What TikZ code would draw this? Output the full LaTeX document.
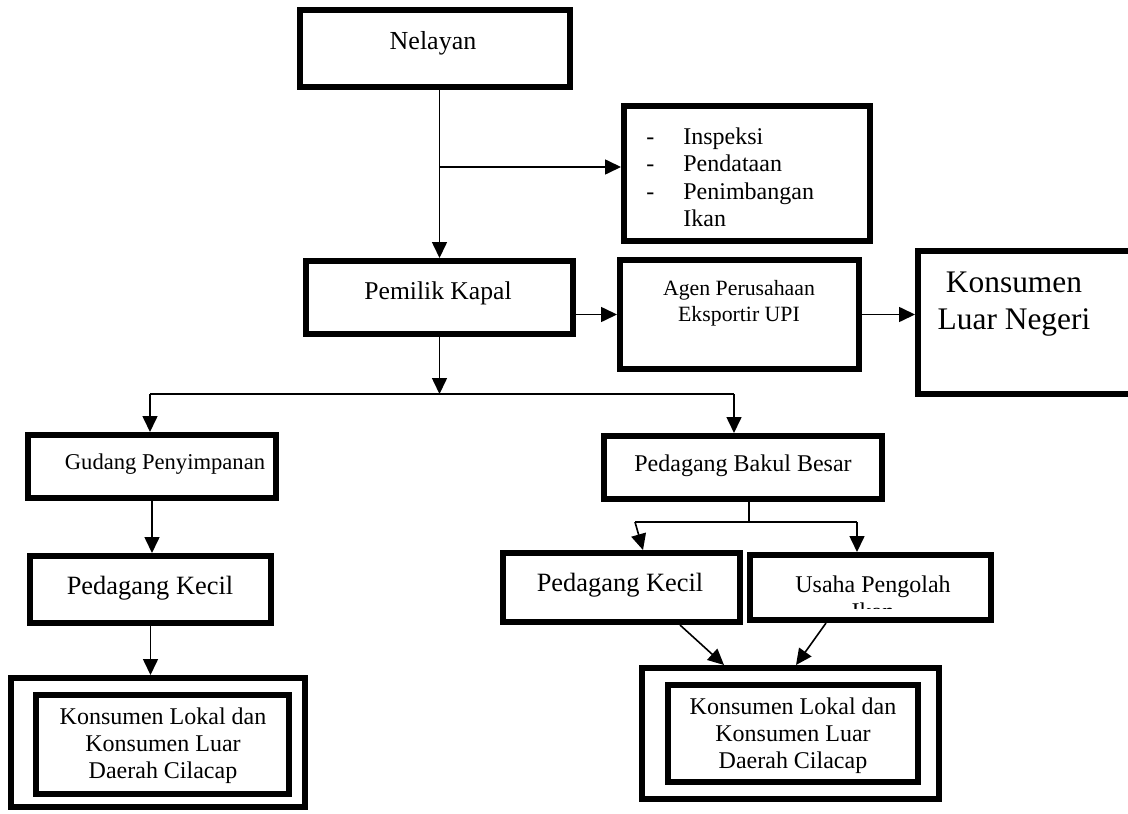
\documentclass[tikz,border=0pt]{standalone}
\usepackage{fontspec}
\setmainfont{Liberation Serif}
\usetikzlibrary{arrows.meta,fit}
\begin{document}
\begin{tikzpicture}[x=0.5pt,y=-0.5pt,
  box/.style={draw, line width=3pt, inner sep=0pt, rectangle},
  lbl/.style={inner sep=0pt, align=center},
  arr/.style={line width=0.8pt, -{Triangle[length=8pt,width=7.5pt]}},
  ln/.style={line width=0.8pt}]
\useasboundingbox (0,0) rectangle (1128,813);

% boxes
\node[box, fit={(300,10) (570,87)}] (nel) {};
\node[box, fit={(624,106) (870,241)}] (insp) {};
\node[box, fit={(306,261) (573,334)}] (pem) {};
\node[box, fit={(620,260) (859,369)}] (agen) {};
\node[box, fit={(918,251) (1140,394)}] (kln) {};
\node[box, fit={(28,435) (276,498)}] (gud) {};
\node[box, fit={(30,556) (271,623)}] (pkl) {};
\node[box, fit={(11,678) (305,807)}] (lko) {};
\node[box, fit={(36,695) (289,794)}] (lki) {};
\node[box, fit={(604,436) (882,499)}] (pbb) {};
\node[box, fit={(503,553) (740,622)}] (pkr) {};
\node[box, fit={(750,555) (991,620)}] (ush) {};
\node[box, fit={(642,668) (939,799)}] (rko) {};
\node[box, fit={(668,685) (918,782)}] (rki) {};

% texts
\node[lbl, font=\fontsize{13}{15}\selectfont] (tnel) at (433,43) {Nelayan};
\node[lbl, anchor=west, font=\fontsize{12}{13.7}\selectfont] (tinsp) at (646,180)
  {\begin{tabular}{@{}p{18.5pt}@{}l@{}}-&Inspeksi\\-&Pendataan\\-&Penimbangan\\&Ikan\end{tabular}};
\node[lbl, font=\fontsize{12.8}{15}\selectfont] (tpem) at (438,293) {Pemilik Kapal};
\node[lbl, font=\fontsize{10.9}{13}\selectfont] (tagen) at (739,303) {Agen Perusahaan\\Eksportir UPI};
\node[lbl, font=\fontsize{15.7}{18.5}\selectfont] (tkln) at (1014,304) {Konsumen\\Luar Negeri};
\node[lbl, font=\fontsize{11.3}{13}\selectfont] (tgud) at (165,464) {Gudang Penyimpanan};
\node[lbl, font=\fontsize{13.2}{15}\selectfont] (tpkl) at (150,588) {Pedagang Kecil};
\node[lbl, font=\fontsize{12}{13.5}\selectfont] (tlk) at (163,746) {Konsumen Lokal dan\\Konsumen Luar\\Daerah Cilacap};
\node[lbl, font=\fontsize{12}{14}\selectfont] (tpbb) at (743,466) {Pedagang Bakul Besar};
\node[lbl, font=\fontsize{13.2}{15}\selectfont] (tpkr) at (620,585) {Pedagang Kecil};
\begin{scope}
  \clip (753,558) rectangle (988,608);
  \node[lbl, anchor=north, font=\fontsize{12}{13.5}\selectfont] (tush) at (873,575) {Usaha Pengolah\\Ikan};
\end{scope}
\node[lbl, font=\fontsize{12}{13.5}\selectfont] (trk) at (793,736) {Konsumen Lokal dan\\Konsumen Luar\\Daerah Cilacap};

% connectors
\coordinate (b1) at (pem.north |- 0,167);
\coordinate (split) at (pem.south |- 0,394);
\coordinate (sl) at (150,394);
\coordinate (sr) at (734,394);
\coordinate (pb) at (749,522);
\coordinate (pbl) at (635,522);
\coordinate (pbr) at (857,522);

\draw[arr] (pem.north |- nel.south) -- (pem.north);
\draw[arr] (b1) -- (b1 -| insp.west);
\draw[arr] (agen.west -| pem.east) -- (agen.west);
\draw[arr] (agen.east) -- (agen.east -| kln.west);
\draw[arr] (pem.south) -- (split);
\draw[ln] (sl) -- (sr);
\draw[arr] (sl) -- (sl |- gud.north);
\draw[arr] (sr) -- (sr |- pbb.north);
\draw[arr] (gud.south) -- (gud.south |- pkl.north);
\draw[arr] (pkl.south) -- (pkl.south |- lko.north);
\draw[ln] (pb |- pbb.south) -- (pb);
\draw[ln] (pbl) -- (pbr);
\draw[arr] (pbl) -- (643,553 |- pkr.north);
\draw[arr] (pbr) -- (pbr |- ush.north);
\draw[arr] (680,622 |- pkr.south) -- (724,668 |- rko.north);
\draw[arr] (826,620 |- ush.south) -- (796,668 |- rko.north);
\end{tikzpicture}
\end{document}
